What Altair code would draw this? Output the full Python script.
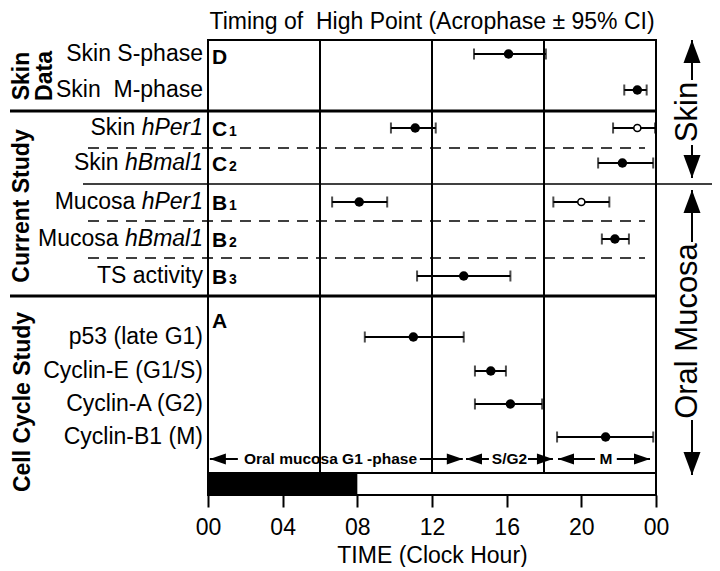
import altair as alt
import pandas as pd

FONT = "Liberation Sans"
BLACK = "black"
NB = "\u00a0"

# ---------------- data ----------------
title_text = ["Timing of" + NB + " High Point (Acrophase \u00b1 95% CI)"]
x_title = "TIME (Clock Hour)"
tick_hours = list(range(0, 25, 2))

# row labels (plain part, italic part) and their vertical positions (px from top of plot)
row_plain = ["Skin S-phase", "Skin" + NB + " M-phase", "Skin", "Skin", "Mucosa", "Mucosa",
             "TS activity", "p53 (late G1)", "Cyclin-E (G1/S)", "Cyclin-A (G2)", "Cyclin-B1 (M)"]
row_italic = ["", "", "hPer1", "hBmal1", "hPer1", "hBmal1", "", "", "", "", ""]
row_pos = [14, 50, 88, 123, 162, 199, 236, 297, 331, 364, 397]

# acrophase estimates (clock hour) with 95% CI
pt_row = [0, 1, 2, 2, 3, 4, 4, 5, 6, 7, 8, 9, 10]
pt_acro = [16.1, 23.0, 11.1, 23.0, 22.2, 8.1, 20.0, 21.8, 13.7, 11.0, 15.15, 16.2, 21.3]
pt_lo = [14.25, 22.3, 9.8, 21.7, 20.9, 6.65, 18.5, 21.1, 11.2, 8.4, 14.3, 14.3, 18.7]
pt_hi = [18.1, 23.5, 12.2, 23.95, 23.85, 9.6, 21.5, 22.55, 16.2, 13.7, 15.96, 17.9, 23.85]
pt_filled = [True, True, True, False, True, True, False, True, True, True, True, True, True]

# panel letters
panel_letter = ["D", "C", "C", "B", "B", "B", "A"]
panel_sub = ["", "1", "2", "1", "2", "3", ""]
panel_pos = [17, 89, 124, 163, 200, 237, 281]

# left group labels
group_text = ["Skin", "Data", "Current Study", "Cell Cycle Study"]
group_px = [-186, -163, -186, -185]
group_pos = [36, 36, 166, 362]

# clock boundaries and light/dark bar
boundary_hours = [6, 12, 18]
dark_start, dark_end = [0], [8]

# cell-cycle phase arrows (hours)
phase_name = ["Oral mucosa G1 -phase", "S/G2", "M"]
phase_start = [0.1, 13.82, 18.75]
phase_end = [13.65, 18.48, 23.68]
phase_gap_l = [1.6, 15.05, 20.73]
phase_gap_r = [11.35, 17.14, 21.9]
phase_mid = [6.56, 16.15, 21.32]

# right-side tissue brackets
side_label = ["Skin", "Oral Mucosa"]
side_tip_top = [0, 150]
side_txt_top = [40, 202]
side_txt_bot = [105, 380]
side_tip_bot = [138, 435]
side_mid = [72, 291]

# ---------------- layout constants ----------------
W, H = 448, 455
STRIP_TOP = 433
PHASE_Y = 419
LABEL_FS = 23

EM = {'h': .556, 'P': .667, 'e': .556, 'r': .333, '1': .556, 'B': .667, 'm': .833,
      'a': .556, 'l': .222, ' ': .278}


def em_width(s):
    return sum(EM.get(c, .556) for c in s)


xs = alt.Scale(domain=[0, 24], nice=False, zero=False)
ys = alt.Scale(domain=[0, H], reverse=True, nice=False, zero=False)
NOY = dict(scale=ys, axis=None)
NOX = dict(scale=xs)

x_axis = alt.Axis(values=tick_hours,
                  labelExpr="datum.value % 4 === 0 ? (datum.value === 24 ? '00' : (datum.value < 10 ? '0' + datum.value : '' + datum.value)) : ''",
                  tickSize=12, tickWidth=2, tickColor=BLACK, domain=False, grid=False,
                  labelFont=FONT, labelFontSize=LABEL_FS, labelColor=BLACK, labelPadding=9,
                  labelFlush=False, labelOverlap=False,
                  title=x_title, titleFont=FONT, titleFontSize=LABEL_FS, titleFontWeight="normal",
                  titleColor=BLACK, titleY=60, titleBaseline="middle")

# ---------------- layers ----------------
vdf = pd.DataFrame({"hour": boundary_hours, "top": [0] * 3, "bot": [STRIP_TOP] * 3})
vlines = alt.Chart(vdf).mark_rule(color=BLACK, strokeWidth=2).encode(
    x=alt.X("hour:Q", scale=xs, axis=x_axis),
    y=alt.Y("top:Q", **NOY), y2="bot:Q")

strip = alt.Chart(pd.DataFrame({"s": dark_start, "e": dark_end, "t": [STRIP_TOP], "b": [H]})).mark_rect(
    color=BLACK).encode(x=alt.X("s:Q", **NOX), x2="e:Q",
                        y=alt.Y("t:Q", **NOY), y2="b:Q")

strip_line = alt.Chart(pd.DataFrame({"t": [STRIP_TOP]})).mark_rule(color=BLACK, strokeWidth=2).encode(
    x=alt.value(0), x2=alt.value(W), y=alt.Y("t:Q", **NOY))

thick = alt.Chart(pd.DataFrame({"y": [71, 256]})).mark_rule(color=BLACK, strokeWidth=3).encode(
    x=alt.value(-198), x2=alt.value(W), y=alt.Y("y:Q", **NOY))

thin = alt.Chart(pd.DataFrame({"y": [144]})).mark_rule(color=BLACK, strokeWidth=1.5).encode(
    x=alt.value(-125), x2=alt.value(504), y=alt.Y("y:Q", **NOY))

dashed = alt.Chart(pd.DataFrame({"y": [108, 181, 218]})).mark_rule(
    color=BLACK, strokeWidth=1.5, strokeDash=[11, 8]).encode(
    x=alt.value(-120), x2=alt.value(437), y=alt.Y("y:Q", **NOY))

pts = pd.DataFrame({"y": [row_pos[i] for i in pt_row], "acro": pt_acro, "lo": pt_lo,
                    "hi": pt_hi, "filled": pt_filled})

ebar = alt.Chart(pts).mark_rule(color=BLACK, strokeWidth=2).encode(
    x=alt.X("lo:Q", **NOX), x2="hi:Q", y=alt.Y("y:Q", **NOY))

caps_df = pd.concat([pts[["y", "lo"]].rename(columns={"lo": "x"}),
                     pts[["y", "hi"]].rename(columns={"hi": "x"})])
caps = alt.Chart(caps_df).mark_tick(color=BLACK, orient="vertical", size=11, thickness=2).encode(
    x=alt.X("x:Q", **NOX), y=alt.Y("y:Q", **NOY))

filled_pts = alt.Chart(pts[pts.filled]).mark_point(
    shape="circle", filled=True, color=BLACK, size=90, opacity=1).encode(
    x=alt.X("acro:Q", **NOX), y=alt.Y("y:Q", **NOY))

open_pts = alt.Chart(pts[~pts.filled]).mark_point(
    shape="circle", filled=False, fill="white", stroke=BLACK, strokeWidth=1.6, size=50, opacity=1).encode(
    x=alt.X("acro:Q", **NOX), y=alt.Y("y:Q", **NOY))

labels = pd.DataFrame({"plain": row_plain, "ital": row_italic, "y": row_pos})
labels["px"] = [-5 - ((em_width(it) + EM[' ']) * LABEL_FS if it else 0) for it in row_italic]

plain_txt = alt.Chart(labels).mark_text(
    align="right", baseline="middle", font=FONT, fontSize=LABEL_FS, color=BLACK).encode(
    x=alt.X("px:Q", scale=None, axis=None), y=alt.Y("y:Q", **NOY), text="plain:N")

ital_txt = alt.Chart(labels[labels.ital != ""]).mark_text(
    align="right", baseline="middle", font=FONT, fontSize=LABEL_FS, fontStyle="italic", color=BLACK).encode(
    x=alt.value(-5), y=alt.Y("y:Q", **NOY), text="ital:N")

pan = pd.DataFrame({"L": panel_letter, "s": panel_sub, "y": [p + 7 for p in panel_pos]})
pan_txt = alt.Chart(pan).mark_text(
    align="left", baseline="alphabetic", font=FONT, fontSize=21, fontWeight="bold", color=BLACK).encode(
    x=alt.value(4), y=alt.Y("y:Q", **NOY), text="L:N")
sub_txt = alt.Chart(pan[pan.s != ""]).mark_text(
    align="left", baseline="alphabetic", font=FONT, fontSize=14, fontWeight="bold", color=BLACK).encode(
    x=alt.value(21), y=alt.Y("y:Q", **NOY), text="s:N")

grp = pd.DataFrame({"t": group_text, "px": group_px, "y": group_pos})
grp_txt = alt.Chart(grp).mark_text(
    angle=270, align="center", baseline="middle", font=FONT, fontSize=23, fontWeight="bold",
    color=BLACK).encode(x=alt.X("px:Q", scale=None, axis=None), y=alt.Y("y:Q", **NOY), text="t:N")

# phase arrows
RIGHT = "M0,0L-2,-0.7L-2,0.7Z"
LEFT = "M0,0L2,-0.7L2,0.7Z"
UP = "M0,0L-0.74,2L0.74,2Z"
DOWN = "M0,0L-0.74,-2L0.74,-2Z"

seg = pd.DataFrame({"a": phase_start + phase_gap_r, "b": phase_gap_l + phase_end,
                    "y": [PHASE_Y] * 6})
ph_shaft = alt.Chart(seg).mark_rule(color=BLACK, strokeWidth=2).encode(
    x=alt.X("a:Q", **NOX), x2="b:Q", y=alt.Y("y:Q", **NOY))
heads = pd.DataFrame({"x": phase_start + phase_end, "shp": [LEFT] * 3 + [RIGHT] * 3,
                      "y": [PHASE_Y] * 6})
ph_heads = alt.Chart(heads).mark_point(filled=True, color=BLACK, size=256, opacity=1).encode(
    x=alt.X("x:Q", **NOX), y=alt.Y("y:Q", **NOY),
    shape=alt.Shape("shp:N", scale=None, legend=None))
ph_txt = alt.Chart(pd.DataFrame({"t": phase_name, "x": phase_mid, "y": [PHASE_Y] * 3})).mark_text(
    align="center", baseline="middle", font=FONT, fontSize=15.5, fontWeight="bold", color=BLACK).encode(
    x=alt.X("x:Q", **NOX), y=alt.Y("y:Q", **NOY), text="t:N")

# right side brackets
sseg = pd.DataFrame({"a": side_tip_top + side_txt_bot, "b": side_txt_top + side_tip_bot})
sd_shaft = alt.Chart(sseg).mark_rule(color=BLACK, strokeWidth=2).encode(
    x=alt.value(484), y=alt.Y("a:Q", **NOY), y2="b:Q")
sheads = pd.DataFrame({"y": side_tip_top + side_tip_bot, "shp": [UP] * 2 + [DOWN] * 2})
sd_heads = alt.Chart(sheads).mark_point(filled=True, color=BLACK, size=529, opacity=1).encode(
    x=alt.value(484), y=alt.Y("y:Q", **NOY), shape=alt.Shape("shp:N", scale=None, legend=None))
sd_txt = alt.Chart(pd.DataFrame({"t": side_label, "y": side_mid})).mark_text(
    angle=270, align="center", baseline="alphabetic", font=FONT, fontSize=31, color=BLACK).encode(
    x=alt.value(489), y=alt.Y("y:Q", **NOY), text="t:N")

title = alt.Chart(pd.DataFrame({"t": title_text})).mark_text(
    align="center", baseline="middle", font=FONT, fontSize=LABEL_FS, color=BLACK).encode(
    x=alt.value(W / 2), y=alt.value(-18), text="t:N")

chart = alt.layer(
    vlines, strip, strip_line, thick, thin, dashed, ebar, caps, filled_pts, open_pts,
    plain_txt, ital_txt, pan_txt, sub_txt, grp_txt, ph_shaft, ph_heads, ph_txt,
    sd_shaft, sd_heads, sd_txt, title
).properties(
    width=W, height=H,
    padding={"left": 200, "top": 32, "right": 56, "bottom": 72},
    autosize=alt.AutoSizeParams(type="none"),
    background="white",
).configure_view(stroke=BLACK, strokeWidth=2)

chart.save("out.html", embed_options={"renderer": "svg", "actions": False})
